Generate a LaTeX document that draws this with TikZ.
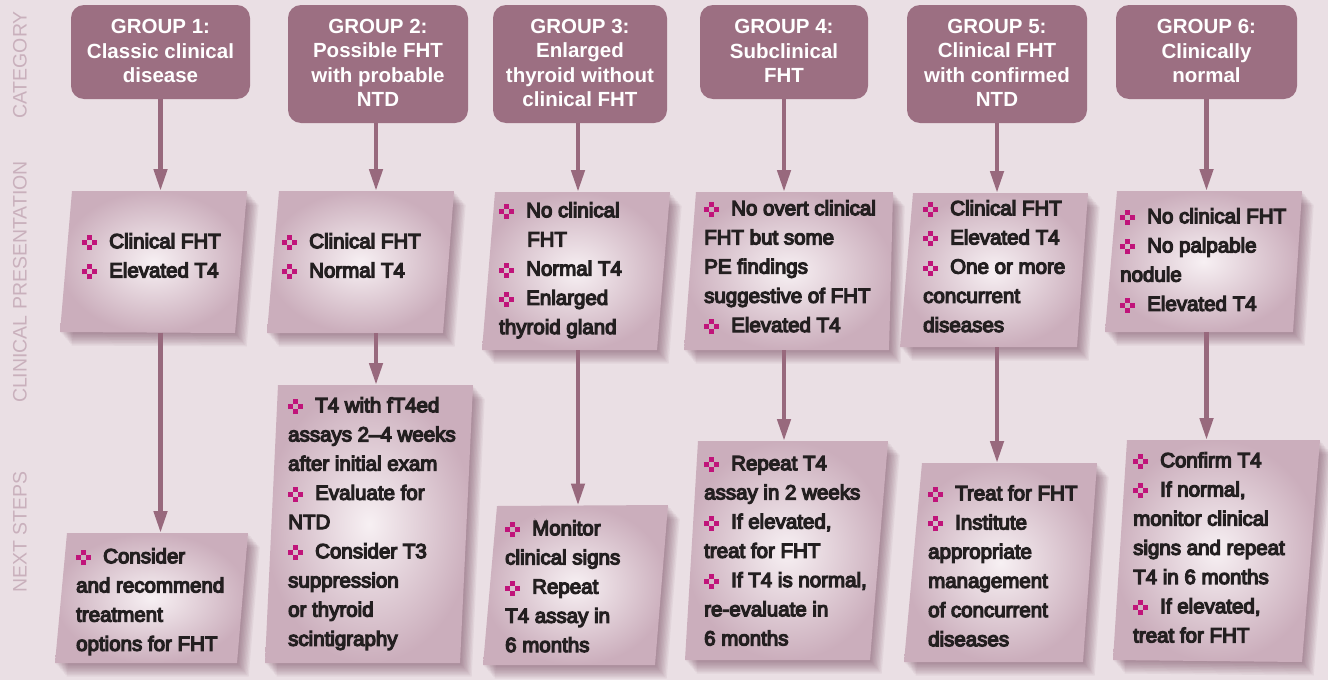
\documentclass[tikz,border=0pt]{standalone}
\usepackage{fontspec}
\setmainfont{Liberation Sans}
\newfontfamily\bodyf{Liberation Sans}[FakeBold=6]
\usetikzlibrary{arrows.meta}
\definecolor{bgc}{HTML}{EADFE4}
\definecolor{hdrc}{HTML}{9C6F82}
\definecolor{arrc}{HTML}{98697D}
\definecolor{lblc}{HTML}{C9B0BC}
\definecolor{boxin}{HTML}{F7F0F3}
\definecolor{boxout}{HTML}{CBAEBC}
\definecolor{shc}{HTML}{6A3A51}
\definecolor{mag}{HTML}{C0147A}
\definecolor{txtc}{HTML}{231F20}
\newcommand\bul{\raisebox{-2pt}{\textcolor{mag}{\rlap{\hspace{5pt}\rule[10pt]{5pt}{5pt}}\rlap{\rule[5pt]{5pt}{5pt}}\rlap{\hspace{10pt}\rule[5pt]{5pt}{5pt}}\hspace{5pt}\rule{5pt}{5pt}\hspace{5pt}}}\hspace{12pt}}
\newcommand\fl{\rule{0pt}{16pt}}
\newcommand\ld{\rule[-4pt]{0pt}{4pt}}
\newcommand\qbox[4]{%
  \foreach \k in {1,...,9}{\fill[shc, opacity=0.065, shift={(1.3*\k,1.5*\k)}] #1 -- #2 -- #3 -- #4 -- cycle;}
  \shade[inner color=boxin, outer color=boxout] #1 -- #2 -- #3 -- #4 -- cycle;}
\begin{document}
\begin{tikzpicture}[x=1pt,y=-1pt,
  hdr/.style={rounded corners=13pt, fill=hdrc, inner sep=0pt, align=center, text=white,
    font={\bfseries\fontsize{20.5}{24.5}\selectfont}},
  txt/.style={inner sep=0pt, align=left, anchor=north west, text=txtc,
    font={\bodyf\fontsize{20.5}{29.2}\selectfont}},
  lbl/.style={rotate=90, inner sep=0pt, text=lblc, font={\fontsize{19.5}{20}\selectfont}},
  arr/.style={draw=arrc, line width=4.5pt, -{Triangle[length=22pt,width=13pt]}}]
\useasboundingbox (0,0) rectangle (1328,680);
\fill[bgc] (0,0) rectangle (1328,680);

% side labels
\node[lbl] (lcat) at (20,65) {CATEGORY};
\node[lbl] (lcp) at (20,282) {CLINICAL PRESENTATION};
\node[lbl] (lns) at (20,532) {NEXT STEPS};

% headers
\node[hdr, minimum width=179pt, minimum height=94pt] (h1) at (160.5,52) {\fl GROUP 1:\\Classic clinical\\disease\ld};
\node[hdr, minimum width=180pt, minimum height=118pt] (h2) at (378,64) {\fl GROUP 2:\\Possible FHT\\with probable\\NTD\ld};
\node[hdr, minimum width=174pt, minimum height=118pt] (h3) at (580,64) {\fl GROUP 3:\\Enlarged\\thyroid without\\clinical FHT\ld};
\node[hdr, minimum width=168pt, minimum height=94pt] (h4) at (784,52) {\fl GROUP 4:\\Subclinical\\FHT\ld};
\node[hdr, minimum width=180pt, minimum height=118pt] (h5) at (997,64) {\fl GROUP 5:\\Clinical FHT\\with confirmed\\NTD\ld};
\node[hdr, minimum width=181pt, minimum height=94pt] (h6) at (1206.5,52) {\fl GROUP 6:\\Clinically\\normal\ld};

% presentation boxes
\qbox{(72,191)}{(247,191)}{(235,333)}{(60,332)}
\qbox{(279,191)}{(454,191)}{(443,333)}{(267,333)}
\qbox{(495,192)}{(670,192)}{(657,350)}{(482,350)}
\qbox{(696,192)}{(893,192)}{(889,350)}{(684,350)}
\qbox{(913,193)}{(1088,193)}{(1077,347)}{(900,347)}
\qbox{(1117,191)}{(1302,191)}{(1293,332)}{(1105,332)}
% next-step boxes
\qbox{(67,533)}{(248,533)}{(237,663)}{(55,663)}
\qbox{(278,385)}{(473,385)}{(460,663)}{(265,663)}
\qbox{(497,506)}{(668,505)}{(655,665)}{(483,665)}
\qbox{(698,441)}{(888,441)}{(870,660)}{(685,660)}
\qbox{(922,463)}{(1097,463)}{(1083,662)}{(904,662)}
\qbox{(1127,440)}{(1320,440)}{(1302,662)}{(1113,660)}

% connector end points
\coordinate (p1t) at (160.5,191); \coordinate (p1b) at (160.5,332.5);
\coordinate (p2t) at (376,191);   \coordinate (p2b) at (376,333);
\coordinate (p3t) at (578,192);   \coordinate (p3b) at (578,350);
\coordinate (p4t) at (784,192);   \coordinate (p4b) at (784,350);
\coordinate (p5t) at (997,193);   \coordinate (p5b) at (997,347);
\coordinate (p6t) at (1206.5,191);\coordinate (p6b) at (1206.5,332);
\coordinate (n1t) at (160.5,533);
\coordinate (n2t) at (376,385);
\coordinate (n3t) at (578,505.5);
\coordinate (n4t) at (784,441);
\coordinate (n5t) at (997,463);
\coordinate (n6t) at (1206.5,440);

\draw[arr] (h1.south -| p1t) -- (p1t);
\draw[arr] (h2.south -| p2t) -- (p2t);
\draw[arr] (h3.south -| p3t) -- (p3t);
\draw[arr] (h4.south -| p4t) -- (p4t);
\draw[arr] (h5.south -| p5t) -- (p5t);
\draw[arr] (h6.south -| p6t) -- (p6t);
\draw[arr] (p1b) -- (n1t);
\draw[arr] (p2b) -- (n2t);
\draw[arr] (p3b) -- (n3t);
\draw[arr] (p4b) -- (n4t);
\draw[arr] (p5b) -- (n5t);
\draw[arr] (p6b) -- (n6t);

% presentation texts
\node[txt] (tp1) at (82,232) {\fl\bul Clinical FHT\\\bul Elevated T4};
\node[txt] (tp2) at (282,232) {\fl\bul Clinical FHT\\\bul Normal T4};
\node[txt] (tp3) at (499,201) {\fl\bul No clinical\\\hspace{28pt}FHT\\\bul Normal T4\\\bul Enlarged\\thyroid gland};
\node[txt] (tp4) at (704,199) {\fl\bul No overt clinical\\FHT but some\\PE findings\\suggestive of FHT\\\bul Elevated T4};
\node[txt] (tp5) at (923,199) {\fl\bul Clinical FHT\\\bul Elevated T4\\\bul One or more\\concurrent\\diseases};
\node[txt] (tp6) at (1120,207) {\fl\bul No clinical FHT\\\bul No palpable\\nodule\\\bul Elevated T4};
% next-step texts
\node[txt] (tn1) at (76,547) {\fl\bul Consider\\and recommend\\treatment\\options for FHT};
\node[txt] (tn2) at (288,396) {\fl\bul T4 with fT4ed\\assays 2–4 weeks\\after initial exam\\\bul Evaluate for\\NTD\\\bul Consider T3\\suppression\\or thyroid\\scintigraphy};
\node[txt] (tn3) at (505,519) {\fl\bul Monitor\\clinical signs\\\bul Repeat\\T4 assay in\\6 months};
\node[txt] (tn4) at (704,454) {\fl\bul Repeat T4\\assay in 2 weeks\\\bul If elevated,\\treat for FHT\\\bul If T4 is normal,\\re-evaluate in\\6 months};
\node[txt] (tn5) at (928,484) {\fl\bul Treat for FHT\\\bul Institute\\appropriate\\management\\of concurrent\\diseases};
\node[txt] (tn6) at (1133,451) {\fl\bul Confirm T4\\\bul If normal,\\monitor clinical\\signs and repeat\\T4 in 6 months\\\bul If elevated,\\treat for FHT};
\end{tikzpicture}
\end{document}
